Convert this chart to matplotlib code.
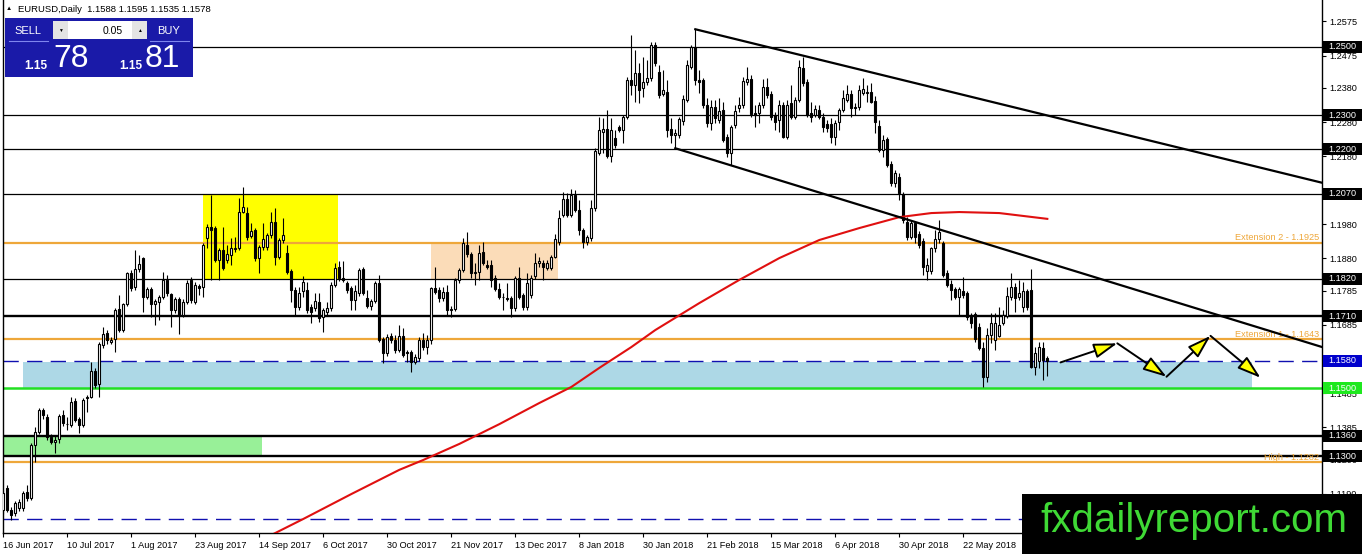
import numpy as np
import matplotlib
matplotlib.use('Agg')
import matplotlib.pyplot as plt
import matplotlib.transforms as mtransforms
from matplotlib.patches import Rectangle
from matplotlib.colors import LinearSegmentedColormap

plt.rcParams['font.family'] = ['Liberation Sans', 'DejaVu Sans']

# daily EURUSD candles, 16 Jun 2017 .. Jun 2018
opens = [1.1142, 1.1206, 1.1142, 1.1132, 1.1147, 1.1147, 1.1196, 1.1177, 1.1333, 1.1372,
         1.1436, 1.1416, 1.1357, 1.1341, 1.1350, 1.1421, 1.1393, 1.1392, 1.1463, 1.1408,
         1.1392, 1.1470, 1.1475, 1.1550, 1.1512, 1.1626, 1.1660, 1.1636, 1.1643, 1.1731,
         1.1670, 1.1745, 1.1838, 1.1795, 1.1848, 1.1880, 1.1768, 1.1789, 1.1746, 1.1751,
         1.1766, 1.1817, 1.1775, 1.1729, 1.1760, 1.1714, 1.1753, 1.1817, 1.1753, 1.1799,
         1.1795, 1.1939, 1.1971, 1.1968, 1.1875, 1.1905, 1.1875, 1.1890, 1.1907, 1.1910,
         1.2017, 1.2014, 1.1947, 1.1963, 1.1880, 1.1914, 1.1914, 1.1949, 1.1988, 1.1885,
         1.1934, 1.1895, 1.1844, 1.1787, 1.1739, 1.1783, 1.1787, 1.1737, 1.1734, 1.1753,
         1.1709, 1.1724, 1.1734, 1.1802, 1.1854, 1.1822, 1.1807, 1.1792, 1.1758, 1.1778,
         1.1848, 1.1763, 1.1741, 1.1756, 1.1807, 1.1643, 1.1602, 1.1653, 1.1641, 1.1611,
         1.1653, 1.1607, 1.1607, 1.1577, 1.1587, 1.1641, 1.1620, 1.1640, 1.1792, 1.1787,
         1.1763, 1.1782, 1.1729, 1.1731, 1.1817, 1.1846, 1.1919, 1.1893, 1.1836, 1.1841,
         1.1900, 1.1861, 1.1861, 1.1822, 1.1790, 1.1768, 1.1763, 1.1763, 1.1734, 1.1822,
         1.1773, 1.1739, 1.1773, 1.1827, 1.1866, 1.1866, 1.1851, 1.1851, 1.1885, 1.1929,
         1.2007, 1.2053, 1.2007, 1.2066, 1.2022, 1.1963, 1.1929, 1.1939, 1.2027, 1.2188,
         1.2252, 1.2259, 1.2179, 1.2232, 1.2264, 1.2257, 1.2294, 1.2403, 1.2389, 1.2423,
         1.2379, 1.2398, 1.2408, 1.2506, 1.2428, 1.2362, 1.2369, 1.2259, 1.2242, 1.2242,
         1.2284, 1.2345, 1.2442, 1.2501, 1.2403, 1.2403, 1.2330, 1.2276, 1.2325, 1.2286,
         1.2315, 1.2237, 1.2188, 1.2271, 1.2320, 1.2330, 1.2398, 1.2405, 1.2305, 1.2305,
         1.2330, 1.2384, 1.2362, 1.2301, 1.2286, 1.2330, 1.2237, 1.2335, 1.2296, 1.2346,
         1.2437, 1.2398, 1.2305, 1.2301, 1.2315, 1.2296, 1.2274, 1.2274, 1.2235, 1.2281,
         1.2315, 1.2346, 1.2362, 1.2323, 1.2323, 1.2366, 1.2366, 1.2369, 1.2343, 1.2268,
         1.2198, 1.2229, 1.2157, 1.2100, 1.2120, 1.2069, 1.1988, 1.1944, 1.1983, 1.1952,
         1.1932, 1.1844, 1.1844, 1.1910, 1.1936, 1.1924, 1.1836, 1.1805, 1.1789, 1.1766,
         1.1785, 1.1778, 1.1714, 1.1717, 1.1680, 1.1616, 1.1533, 1.1655, 1.1641, 1.1652,
         1.1690, 1.1711, 1.1768, 1.1795, 1.1768, 1.1739, 1.1783, 1.1787, 1.1563, 1.1580,
         1.1616, 1.1588]
highs = [1.1200, 1.1215, 1.1150, 1.1170, 1.1175, 1.1198, 1.1216, 1.1340, 1.1387, 1.1440,
         1.1440, 1.1425, 1.1365, 1.1360, 1.1425, 1.1436, 1.1416, 1.1475, 1.1470, 1.1415,
         1.1470, 1.1480, 1.1577, 1.1560, 1.1635, 1.1680, 1.1670, 1.1650, 1.1734, 1.1773,
         1.1750, 1.1841, 1.1845, 1.1905, 1.1890, 1.1885, 1.1795, 1.1795, 1.1762, 1.1772,
         1.1841, 1.1831, 1.1780, 1.1768, 1.1766, 1.1760, 1.1817, 1.1825, 1.1810, 1.1805,
         1.1925, 1.1980, 1.2066, 1.1975, 1.1912, 1.1973, 1.1919, 1.1939, 1.1944, 1.2056,
         1.2090, 1.2030, 1.1983, 1.1970, 1.1920, 1.1983, 1.1955, 1.2017, 1.2027, 1.1940,
         1.1998, 1.1919, 1.1850, 1.1795, 1.1797, 1.1827, 1.1812, 1.1745, 1.1778, 1.1778,
         1.1735, 1.1753, 1.1810, 1.1866, 1.1871, 1.1871, 1.1815, 1.1800, 1.1802, 1.1851,
         1.1854, 1.1787, 1.1762, 1.1815, 1.1831, 1.1650, 1.1658, 1.1660, 1.1655, 1.1685,
         1.1675, 1.1612, 1.1612, 1.1600, 1.1650, 1.1660, 1.1655, 1.1797, 1.1854, 1.1797,
         1.1797, 1.1802, 1.1740, 1.1822, 1.1851, 1.1939, 1.1958, 1.1900, 1.1866, 1.1919,
         1.1929, 1.1875, 1.1875, 1.1830, 1.1807, 1.1780, 1.1807, 1.1770, 1.1827, 1.1856,
         1.1780, 1.1837, 1.1830, 1.1895, 1.1885, 1.1875, 1.1875, 1.1890, 1.1953, 1.2022,
         1.2076, 1.2071, 1.2085, 1.2081, 1.2051, 1.1970, 1.1950, 1.2051, 1.2205, 1.2294,
         1.2291, 1.2315, 1.2291, 1.2257, 1.2270, 1.2301, 1.2413, 1.2535, 1.2491, 1.2452,
         1.2472, 1.2462, 1.2516, 1.2516, 1.2447, 1.2433, 1.2403, 1.2291, 1.2260, 1.2294,
         1.2359, 1.2462, 1.2506, 1.2552, 1.2432, 1.2410, 1.2349, 1.2344, 1.2344, 1.2349,
         1.2340, 1.2245, 1.2271, 1.2330, 1.2354, 1.2413, 1.2442, 1.2418, 1.2330, 1.2340,
         1.2405, 1.2408, 1.2370, 1.2310, 1.2344, 1.2340, 1.2344, 1.2389, 1.2354, 1.2462,
         1.2471, 1.2405, 1.2340, 1.2330, 1.2330, 1.2305, 1.2286, 1.2291, 1.2286, 1.2320,
         1.2374, 1.2389, 1.2374, 1.2335, 1.2389, 1.2408, 1.2389, 1.2393, 1.2355, 1.2286,
         1.2242, 1.2237, 1.2165, 1.2139, 1.2130, 1.2075, 1.2002, 1.1993, 1.1988, 1.1960,
         1.1940, 1.1880, 1.1914, 1.1963, 1.1993, 1.1930, 1.1846, 1.1817, 1.1795, 1.1797,
         1.1826, 1.1785, 1.1720, 1.1724, 1.1690, 1.1636, 1.1675, 1.1719, 1.1719, 1.1739,
         1.1729, 1.1797, 1.1838, 1.1807, 1.1817, 1.1812, 1.1790, 1.1848, 1.1621, 1.1636,
         1.1636, 1.1595]
lows = [1.1130, 1.1135, 1.1113, 1.1125, 1.1140, 1.1140, 1.1170, 1.1172, 1.1284, 1.1365,
        1.1410, 1.1348, 1.1335, 1.1308, 1.1338, 1.1390, 1.1377, 1.1385, 1.1400, 1.1367,
        1.1385, 1.1431, 1.1470, 1.1500, 1.1475, 1.1616, 1.1630, 1.1630, 1.1607, 1.1665,
        1.1665, 1.1740, 1.1785, 1.1787, 1.1840, 1.1724, 1.1760, 1.1709, 1.1685, 1.1700,
        1.1760, 1.1770, 1.1680, 1.1719, 1.1658, 1.1707, 1.1745, 1.1750, 1.1745, 1.1773,
        1.1768, 1.1910, 1.1817, 1.1870, 1.1817, 1.1846, 1.1866, 1.1861, 1.1900, 1.1905,
        1.2012, 1.1935, 1.1940, 1.1871, 1.1836, 1.1905, 1.1905, 1.1940, 1.1861, 1.1878,
        1.1925, 1.1835, 1.1753, 1.1714, 1.1730, 1.1768, 1.1719, 1.1690, 1.1725, 1.1695,
        1.1665, 1.1715, 1.1725, 1.1797, 1.1815, 1.1810, 1.1780, 1.1729, 1.1729, 1.1770,
        1.1773, 1.1734, 1.1730, 1.1750, 1.1635, 1.1572, 1.1595, 1.1632, 1.1604, 1.1605,
        1.1590, 1.1577, 1.1548, 1.1570, 1.1580, 1.1610, 1.1600, 1.1630, 1.1775, 1.1753,
        1.1755, 1.1714, 1.1709, 1.1725, 1.1807, 1.1840, 1.1885, 1.1822, 1.1802, 1.1817,
        1.1860, 1.1850, 1.1797, 1.1785, 1.1760, 1.1729, 1.1755, 1.1709, 1.1725, 1.1760,
        1.1730, 1.1730, 1.1765, 1.1820, 1.1856, 1.1817, 1.1845, 1.1845, 1.1880, 1.1920,
        1.2000, 1.2000, 1.2000, 1.2015, 1.1949, 1.1910, 1.1919, 1.1930, 1.2020, 1.2183,
        1.2188, 1.2174, 1.2164, 1.2205, 1.2250, 1.2218, 1.2288, 1.2359, 1.2340, 1.2335,
        1.2354, 1.2390, 1.2400, 1.2445, 1.2350, 1.2355, 1.2237, 1.2218, 1.2203, 1.2232,
        1.2271, 1.2340, 1.2435, 1.2389, 1.2364, 1.2320, 1.2266, 1.2256, 1.2276, 1.2276,
        1.2222, 1.2178, 1.2154, 1.2261, 1.2310, 1.2320, 1.2390, 1.2296, 1.2266, 1.2276,
        1.2320, 1.2350, 1.2286, 1.2256, 1.2252, 1.2232, 1.2230, 1.2290, 1.2290, 1.2340,
        1.2385, 1.2295, 1.2281, 1.2295, 1.2290, 1.2252, 1.2252, 1.2217, 1.2213, 1.2256,
        1.2310, 1.2340, 1.2296, 1.2301, 1.2315, 1.2359, 1.2340, 1.2335, 1.2247, 1.2193,
        1.2178, 1.2149, 1.2092, 1.2090, 1.2051, 1.1983, 1.1935, 1.1938, 1.1924, 1.1910,
        1.1831, 1.1818, 1.1835, 1.1900, 1.1925, 1.1825, 1.1795, 1.1758, 1.1760, 1.1714,
        1.1765, 1.1700, 1.1675, 1.1635, 1.1610, 1.1504, 1.1519, 1.1631, 1.1611, 1.1650,
        1.1685, 1.1705, 1.1758, 1.1724, 1.1758, 1.1724, 1.1729, 1.1558, 1.1538, 1.1558,
        1.1523, 1.1535]
closes = [1.1191, 1.1142, 1.1128, 1.1162, 1.1167, 1.1191, 1.1177, 1.1333, 1.1372, 1.1436,
          1.1421, 1.1357, 1.1343, 1.1348, 1.1418, 1.1396, 1.1394, 1.1460, 1.1406, 1.1392,
          1.1465, 1.1475, 1.1550, 1.1509, 1.1628, 1.1658, 1.1641, 1.1641, 1.1729, 1.1670,
          1.1745, 1.1836, 1.1792, 1.1848, 1.1864, 1.1766, 1.1789, 1.1746, 1.1755, 1.1766,
          1.1817, 1.1778, 1.1729, 1.1761, 1.1714, 1.1753, 1.1809, 1.1758, 1.1802, 1.1792,
          1.1919, 1.1973, 1.1963, 1.1875, 1.1905, 1.1851, 1.1893, 1.1910, 1.1912, 1.2017,
          1.2032, 1.1944, 1.1961, 1.1880, 1.1914, 1.1936, 1.1949, 1.1988, 1.1885, 1.1934,
          1.1949, 1.1841, 1.1787, 1.1739, 1.1780, 1.1812, 1.1729, 1.1724, 1.1756, 1.1704,
          1.1729, 1.1734, 1.1802, 1.1851, 1.1822, 1.1817, 1.1787, 1.1758, 1.1783, 1.1846,
          1.1778, 1.1741, 1.1756, 1.1809, 1.1641, 1.1602, 1.1651, 1.1641, 1.1611, 1.1653,
          1.1597, 1.1602, 1.1577, 1.1592, 1.1641, 1.1620, 1.1640, 1.1792, 1.1782, 1.1763,
          1.1782, 1.1729, 1.1731, 1.1817, 1.1846, 1.1924, 1.1893, 1.1836, 1.1841, 1.1897,
          1.1866, 1.1856, 1.1817, 1.1790, 1.1768, 1.1766, 1.1761, 1.1734, 1.1822, 1.1768,
          1.1739, 1.1807, 1.1822, 1.1866, 1.1871, 1.1856, 1.1866, 1.1885, 1.1936, 1.1998,
          1.2053, 1.2007, 1.2066, 1.2022, 1.1963, 1.1929, 1.1944, 1.2027, 1.2196, 1.2257,
          1.2259, 1.2179, 1.2257, 1.2213, 1.2257, 1.2294, 1.2403, 1.2389, 1.2423, 1.2374,
          1.2398, 1.2408, 1.2506, 1.2452, 1.2359, 1.2374, 1.2257, 1.2242, 1.2247, 1.2288,
          1.2347, 1.2447, 1.2501, 1.2403, 1.2398, 1.2330, 1.2276, 1.2325, 1.2291, 1.2313,
          1.2227, 1.2188, 1.2264, 1.2313, 1.2330, 1.2401, 1.2405, 1.2303, 1.2301, 1.2330,
          1.2384, 1.2359, 1.2296, 1.2281, 1.2330, 1.2237, 1.2330, 1.2296, 1.2346, 1.2442,
          1.2393, 1.2301, 1.2296, 1.2317, 1.2296, 1.2266, 1.2261, 1.2235, 1.2276, 1.2315,
          1.2349, 1.2362, 1.2320, 1.2320, 1.2374, 1.2376, 1.2369, 1.2340, 1.2281, 1.2198,
          1.2227, 1.2154, 1.2100, 1.2130, 1.2071, 1.1993, 1.1944, 1.1985, 1.1944, 1.1919,
          1.1856, 1.1861, 1.1910, 1.1936, 1.1958, 1.1831, 1.1802, 1.1787, 1.1768, 1.1789,
          1.1773, 1.1709, 1.1690, 1.1643, 1.1616, 1.1533, 1.1655, 1.1690, 1.1690, 1.1685,
          1.1714, 1.1770, 1.1795, 1.1763, 1.1780, 1.1783, 1.1739, 1.1563, 1.1602, 1.1621,
          1.1582, 1.1578]

# red moving average, read at a few bars
ma_bars = [66, 75, 87, 99, 105, 114, 124, 134, 142, 149, 157, 163, 174, 184, 194, 204,
           214, 224, 232, 239, 249, 261]
ma_vals = [1.1063, 1.1116, 1.1189, 1.1260, 1.1289, 1.1336, 1.1394, 1.1456, 1.1503, 1.1559,
           1.1620, 1.1670, 1.1749, 1.1817, 1.1881, 1.1934, 1.1969, 1.2001, 1.2013, 1.2016,
           1.2013, 1.1996]

date_bars = [0, 16, 32, 48, 64, 80, 96, 112, 128, 144, 160, 176, 192, 208, 224, 240]
date_labels = ['16 Jun 2017', '10 Jul 2017', '1 Aug 2017', '23 Aug 2017', '14 Sep 2017',
               '6 Oct 2017', '30 Oct 2017', '21 Nov 2017', '13 Dec 2017', '8 Jan 2018',
               '30 Jan 2018', '21 Feb 2018', '15 Mar 2018', '6 Apr 2018', '30 Apr 2018',
               '22 May 2018']
price_ticks = [1.2575, 1.2475, 1.2380, 1.2280, 1.2180, 1.1980, 1.1880, 1.1785,
               1.1685, 1.1485, 1.1385, 1.1290, 1.1190]

# horizontal levels
thin_levels = [1.2500, 1.2300, 1.2200, 1.2070, 1.1820]
thick_levels = [1.1710, 1.1360, 1.1300]
orange_levels = [1.1925, 1.1643, 1.1282]
orange_texts = ['Extension 2 - 1.1925', 'Extension 1 - 1.1643', 'High - 1.1282']
support = 1.1500
bid_line = 1.1580
low_dash = 1.1115

upper_tl = ([173, 330], [1.2552, 1.2101])
lower_tl = ([168, 330], [1.2203, 1.1619])

# projected path
path_bars = [264.3, 278.5, 290.8, 301.8, 314.3]
path_prices = [1.1575, 1.1631, 1.1533, 1.1653, 1.1530]

# boxes: left bar, right bar, low price, high price, colour
boxes = [(49.9, 83.7, 1.1817, 1.2066, '#ffff00'),
         (106.9, 138.7, 1.1817, 1.1925, '#fbdcb8'),
         (4.9, 312.2, 1.1500, 1.1576, '#add8e6'),
         (-1, 64.7, 1.1300, 1.1360, '#98f098')]

W, H = 1362, 554
fig = plt.figure(figsize=(W / 100, H / 100), dpi=100)
ax = fig.add_axes([3 / W, (H - 533) / H, 1319 / W, 533 / H])
ax.set_xlim(-0.08, 329.67)
ax.set_ylim(1.10748, 1.26378)

for x0, x1, p0, p1, col in boxes:
    ax.add_patch(Rectangle((x0, p0), x1 - x0, p1 - p0, color=col, lw=0, zorder=0))

for p in thin_levels:
    ax.axhline(p, color='black', lw=0.9, zorder=1)
for p in thick_levels:
    ax.axhline(p, color='black', lw=1.7, zorder=1)
for p in orange_levels:
    ax.axhline(p, color='#eea73a', lw=1.6, zorder=1)
ax.axhline(support, color='#22e022', lw=1.8, zorder=1)
ax.axhline(bid_line, color='#1010b0', lw=1, dashes=(11, 6), zorder=1)
ax.axhline(low_dash, color='#1010b0', lw=1, dashes=(11, 6), zorder=1)

trans = mtransforms.blended_transform_factory(ax.transAxes, ax.transData)
for p, t in zip(orange_levels, orange_texts):
    ax.text(0.998, p + 0.0002, t, transform=trans, ha='right', va='bottom',
            fontsize=6.6, color='#eea73a', zorder=2)

# candles
x = np.arange(len(opens))
o = np.array(opens)
hi = np.array(highs)
lo = np.array(lows)
c = np.array(closes)
up = c >= o
ax.vlines(x, lo, hi, color='black', lw=0.8, zorder=3)
ax.bar(x[up], np.abs(c - o)[up], bottom=np.minimum(o, c)[up], width=0.5,
       facecolor='white', edgecolor='black', lw=0.8, zorder=4)
ax.bar(x[~up], np.abs(c - o)[~up], bottom=np.minimum(o, c)[~up], width=0.5,
       facecolor='black', edgecolor='black', lw=0.8, zorder=4)

ax.plot(ma_bars, ma_vals, color='#e01010', lw=1.5, zorder=5)
ax.plot(upper_tl[0], upper_tl[1], color='black', lw=1.6, zorder=5)
ax.plot(lower_tl[0], lower_tl[1], color='black', lw=1.6, zorder=5)

for i in range(len(path_bars) - 1):
    ax.annotate('', xy=(path_bars[i + 1], path_prices[i + 1]),
                xytext=(path_bars[i], path_prices[i]),
                arrowprops=dict(arrowstyle='-|>,head_length=1.2,head_width=0.38',
                                fc='#ffff00', ec='black', lw=1.4, mutation_scale=12,
                                shrinkA=0, shrinkB=0), zorder=6)

# axes look
ax.spines['top'].set_visible(False)
for s in ['left', 'right', 'bottom']:
    ax.spines[s].set_linewidth(1)
ax.yaxis.tick_right()
ax.set_yticks(price_ticks)
ax.set_yticklabels(['%.4f' % p for p in price_ticks])
ax.tick_params(axis='y', direction='out', length=3, width=0.8, pad=2, labelsize=6.6)
ax.set_xticks(date_bars)
ax.set_xticklabels(date_labels, ha='left')
ax.tick_params(axis='x', direction='out', length=3, width=0.8, pad=3, labelsize=6.6)

# highlighted price labels on the scale
marks = [(p, 'black') for p in thin_levels + thick_levels] + [(bid_line, '#0000cc'), (support, '#1ee81e')]
for p, col in marks:
    ax.add_patch(Rectangle((1.0005, p - 0.00176), 0.0307, 0.00352, transform=trans,
                           color=col, lw=0, clip_on=False, zorder=7))
    ax.text(1.0046, p, '%.4f' % p, transform=trans, ha='left', va='center',
            fontsize=6.6, color='white', clip_on=False, zorder=8)

# overlay in pixels: header, trade panel, watermark
ov = fig.add_axes([0, 0, 1, 1], zorder=10)
ov.patch.set_visible(False)
ov.axis('off')

ov.text(6, 9, '\u25b2', fontsize=4.5, va='center', ha='left')
ov.text(18, 9, 'EURUSD,Daily  %.4f %.4f %.4f %.4f' % (opens[-1], highs[-1], lows[-1], closes[-1]),
        fontsize=6.8, va='center', ha='left')

btn = LinearSegmentedColormap.from_list('btn', ['#3a48e8', '#1c26c0'])
big = LinearSegmentedColormap.from_list('big', ['#2a2ae6', '#1414b8', '#06067c'])
grad = np.linspace(0, 1, 64).reshape(-1, 1)
ov.add_patch(Rectangle((5, 18), 188, 59, color='#1a1aa8', lw=0))
ov.imshow(grad, extent=(7, 50, 39, 20), cmap=btn, aspect='auto')
ov.imshow(grad, extent=(148, 191, 39, 20), cmap=btn, aspect='auto')
ov.imshow(grad, extent=(7, 98, 76, 42), cmap=big, aspect='auto')
ov.imshow(grad, extent=(101, 192, 76, 42), cmap=big, aspect='auto')
ov.add_patch(Rectangle((53, 21), 15, 18, color='#e4e4e4', lw=0))
ov.add_patch(Rectangle((68, 21), 64, 18, color='white', lw=0))
ov.add_patch(Rectangle((132, 21), 15, 18, color='#e4e4e4', lw=0))
ov.plot([9, 48], [40.5, 40.5], color='#7f86ee', lw=0.8)
ov.plot([150, 189], [40.5, 40.5], color='#7f86ee', lw=0.8)
ov.text(28, 30.5, 'SELL', color='white', fontsize=8, ha='center', va='center')
ov.text(169, 30.5, 'BUY', color='white', fontsize=8, ha='center', va='center')
ov.text(123, 30.5, '0.05', color='black', fontsize=7.5, ha='right', va='center')
ov.text(60.5, 30.5, '\u25bc', color='black', fontsize=3.5, ha='center', va='center')
ov.text(139.5, 30.5, '\u25b2', color='black', fontsize=3.5, ha='center', va='center')
ov.text(36, 66, '1.15', color='white', fontsize=8.5, fontweight='bold', ha='center', va='center')
ov.text(71.5, 59, '78', color='white', fontsize=23, ha='center', va='center')
ov.text(131, 66, '1.15', color='white', fontsize=8.5, fontweight='bold', ha='center', va='center')
ov.text(162, 59, '81', color='white', fontsize=23, ha='center', va='center')

ov.add_patch(Rectangle((1022, 494), 340, 60, color='black', lw=0))
ov.text(1194, 521, 'fxdailyreport.com', color='#3fd935', fontsize=29, ha='center', va='center')

ov.set_xlim(0, W)
ov.set_ylim(H, 0)

fig.savefig('out.png', dpi=100)
